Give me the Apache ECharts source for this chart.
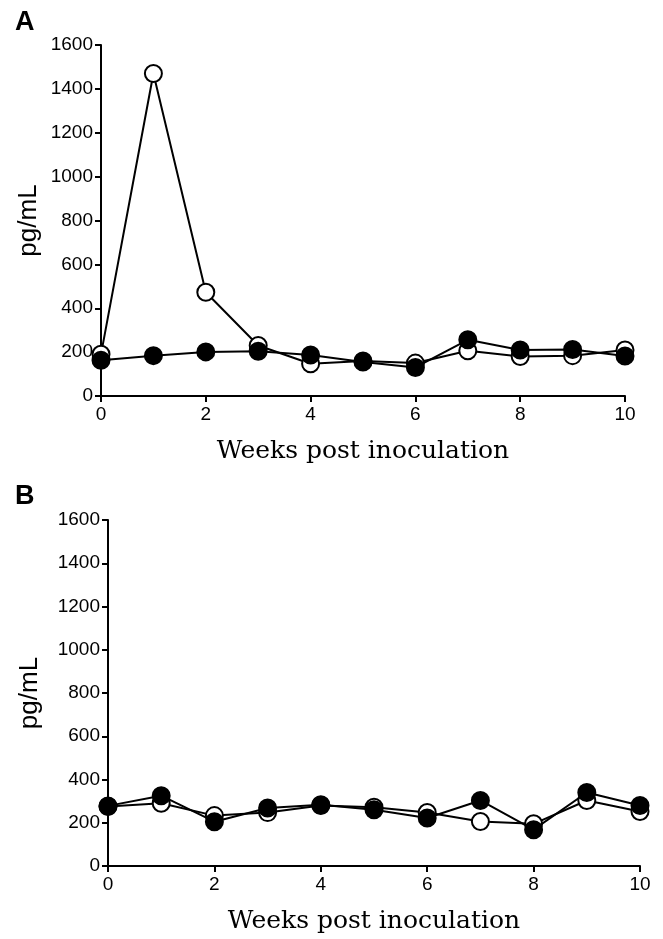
<!DOCTYPE html>
<html>
<head>
<meta charset="utf-8">
<script src="https://cdn.jsdelivr.net/npm/echarts@6/dist/echarts.min.js"></script>
<style>
  html, body { margin: 0; padding: 0; background: #fff; }
  #chart { width: 663px; height: 939px; }
</style>
</head>
<body>
<div id="chart"></div>
<script>
const weeks = [0, 1, 2, 3, 4, 5, 6, 7, 8, 9, 10]
const yTicks = [0, 200, 400, 600, 800, 1000, 1200, 1400, 1600]

// panel A
const aOpen = [190, 1470, 473, 230, 147, 160, 150, 206, 180, 184, 210]
const aFilled = [163, 184, 201, 204, 187, 155, 130, 256, 210, 212, 182]
// panel B
const bOpen = [275, 290, 233, 247, 280, 272, 247, 206, 195, 303, 252]
const bFilled = [278, 325, 205, 268, 283, 260, 222, 303, 168, 340, 280]

const pts = arr => weeks.map((w, i) => [w, arr[i]])

const chart = echarts.init(document.getElementById('chart'))

const tickFont = {
  color: '#000', fontFamily: '"Liberation Sans", Arial', fontSize: 19,
}

const xAxisFor = gridIndex => ({
  type: 'value', gridIndex, min: 0, max: 10, interval: 2,
  name: 'Weeks post inoculation', nameLocation: 'middle', nameGap: 43,
  nameTextStyle: { color: '#000', fontFamily: '"DejaVu Serif", serif', fontSize: 25 },
  axisLine: { lineStyle: { color: '#000', width: 2 } },
  axisTick: { length: 6, lineStyle: { color: '#000', width: 2 } },
  axisLabel: { ...tickFont, margin: 9, formatter: v => String(v) },
  splitLine: { show: false },
})

const yAxisFor = (gridIndex, gap) => ({
  type: 'value', gridIndex, min: yTicks[0], max: yTicks[yTicks.length - 1], interval: 200,
  name: 'pg/mL', nameLocation: 'middle', nameGap: gap, nameRotate: 90, nameMoveOverlap: false,
  nameTextStyle: { color: '#000', fontFamily: '"Liberation Sans", Arial', fontSize: 26 },
  axisLine: { show: true, lineStyle: { color: '#000', width: 2 } },
  axisTick: { show: true, length: 6, lineStyle: { color: '#000', width: 2 } },
  axisLabel: { ...tickFont, margin: 8, formatter: v => String(v) },
  splitLine: { show: false },
})

const lineSeries = (data, idx, filled) => ({
  type: 'line', xAxisIndex: idx, yAxisIndex: idx, data,
  symbol: 'circle', symbolSize: 17,
  lineStyle: { color: '#000', width: 2 },
  itemStyle: { color: filled ? '#000' : '#fff', borderColor: '#000', borderWidth: 2 },
  z: filled ? 3 : 2,
})

chart.setOption({
  backgroundColor: '#fff',
  animation: false,
  title: [
    { text: 'A', left: 10, top: 4, textStyle: { fontFamily: '"Liberation Sans", Arial', fontSize: 27, fontWeight: 'bold', color: '#000' } },
    { text: 'B', left: 10, top: 478, textStyle: { fontFamily: '"Liberation Sans", Arial', fontSize: 27, fontWeight: 'bold', color: '#000' } },
  ],
  grid: [
    { left: 101, right: 38, top: 45, height: 351 },
    { left: 108, right: 23, top: 520, height: 346 },
  ],
  xAxis: [xAxisFor(0), xAxisFor(1)],
  yAxis: [yAxisFor(0, 59), yAxisFor(1, 65)],
  series: [
    lineSeries(pts(aOpen), 0, false),
    lineSeries(pts(aFilled), 0, true),
    lineSeries(pts(bOpen), 1, false),
    lineSeries(pts(bFilled), 1, true),
  ],
})
</script>
</body>
</html>
